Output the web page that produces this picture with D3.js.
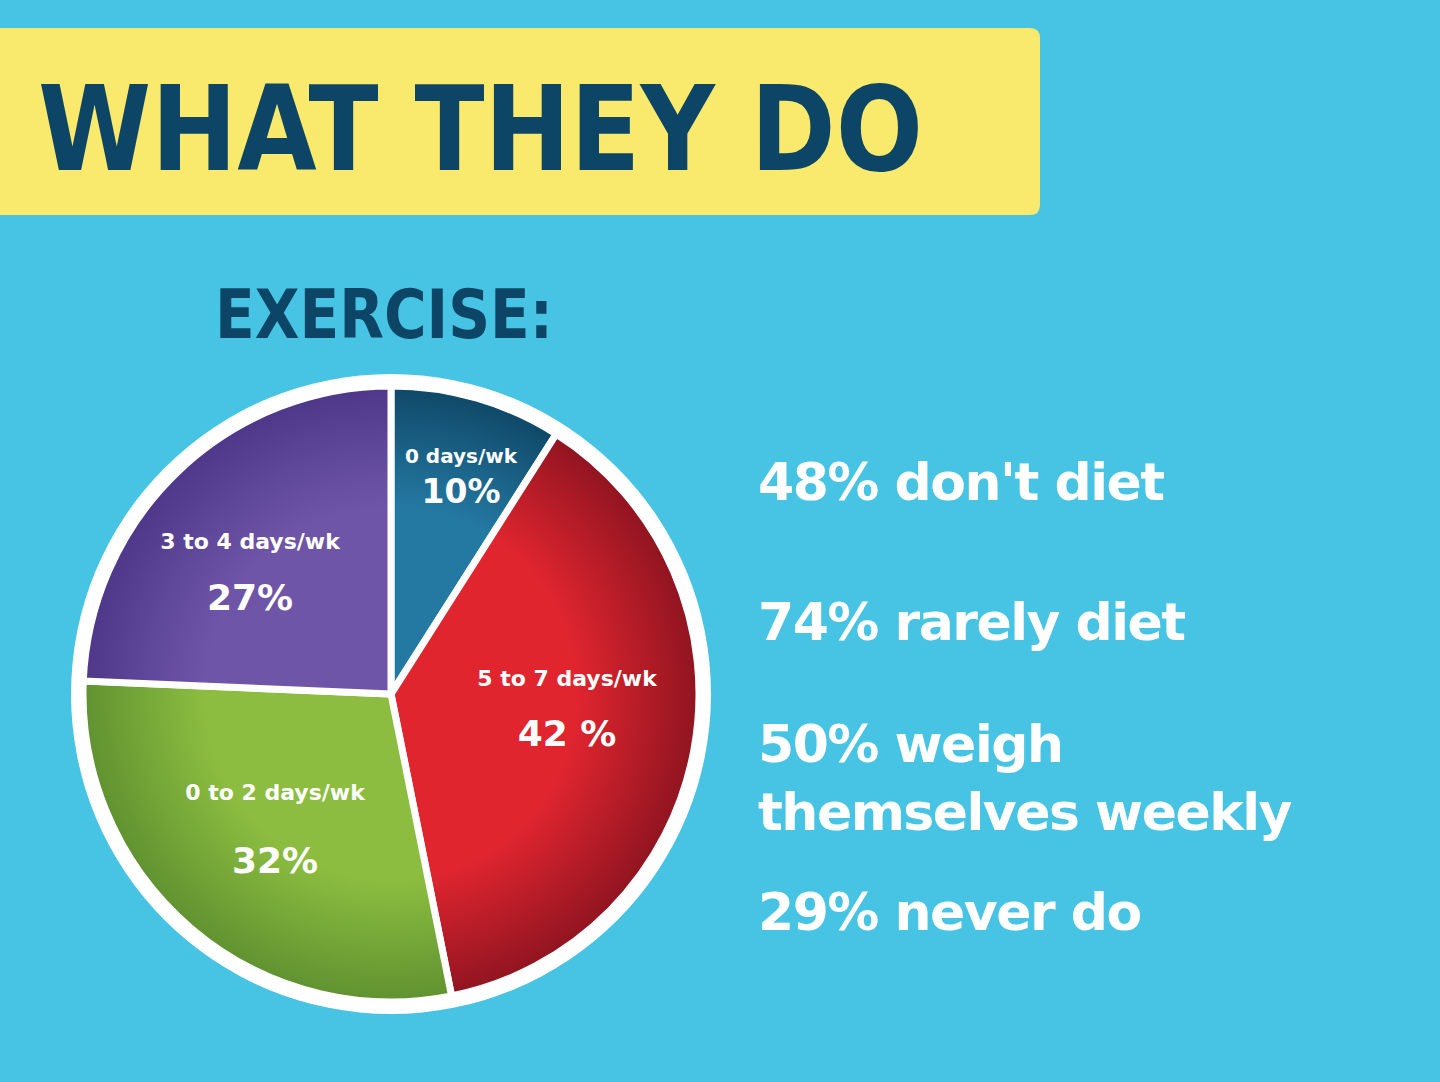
<!DOCTYPE html>
<html><head><meta charset="utf-8">
<script src="https://cdn.jsdelivr.net/npm/d3@7"></script>
<style>body{margin:0;background:#47c3e3;overflow:hidden}</style>
</head><body>
<script>
var labels = ["0 days/wk", "5 to 7 days/wk", "0 to 2 days/wk", "3 to 4 days/wk"];
var values = [10, 42, 32, 27];
var valueText = ["10%", "42 %", "32%", "27%"];
var facts = ["48% don't diet", "74% rarely diet", "50% weigh", "themselves weekly", "29% never do"];
var fills = [["#2479a3", "#0f4766"], ["#e0252f", "#8e1420"], ["#8cbd40", "#5f9130"], ["#6f55a8", "#4d3788"]];

var svg = d3.select("body").append("svg")
	.attr("width", 1440)
	.attr("height", 1082);

svg.append("rect").attr("width", 1440).attr("height", 1082).attr("rx", 14).attr("fill", "#47c3e3");

// yellow banner
svg.append("path")
	.attr("d", "M0,28 H1030 Q1040,28 1040,38 V205 Q1040,215 1030,215 H0 Z")
	.attr("fill", "#f9e96c");
svg.append("text").attr("x", 38).attr("y", 170)
	.attr("font-family", "DejaVu Sans").attr("font-weight", "bold")
	.attr("font-size", 118).attr("fill", "#0d4566")
	.attr("textLength", 885).attr("lengthAdjust", "spacingAndGlyphs")
	.text("WHAT THEY DO");

svg.append("text").attr("x", 215).attr("y", 338)
	.attr("font-family", "DejaVu Sans").attr("font-weight", "bold")
	.attr("font-size", 68).attr("fill", "#0d4566")
	.attr("textLength", 338).attr("lengthAdjust", "spacingAndGlyphs")
	.text("EXERCISE:");

var defs = svg.append("defs");
fills.forEach(function (f, i) {
	var g = defs.append("radialGradient").attr("id", "g" + i)
		.attr("gradientUnits", "userSpaceOnUse").attr("cx", 0).attr("cy", 0).attr("r", 310);
	g.append("stop").attr("offset", "0.6").attr("stop-color", f[0]);
	g.append("stop").attr("offset", "1").attr("stop-color", f[1]);
});

var cx = 391, cy = 694;
var pie = d3.pie().sort(null).value(function (d) { return d; });
var arcs = pie(values);
var arc = d3.arc().innerRadius(0).outerRadius(308);

var g = svg.append("g").attr("transform", "translate(" + cx + "," + cy + ")");
g.append("circle").attr("r", 320).attr("fill", "#ffffff");
g.selectAll("path.slice").data(arcs).enter().append("path")
	.attr("class", "slice")
	.attr("d", arc)
	.attr("fill", function (d, i) { return "url(#g" + i + ")"; })
	.attr("stroke", "#ffffff").attr("stroke-width", 7);

var labelPos = [[70, -231, -191], [176, -8, 52], [-116, 106, 179], [-141, -145, -84]];
arcs.forEach(function (d, i) {
	var p = labelPos[i];
	g.append("text").attr("x", p[0]).attr("y", p[1])
		.attr("text-anchor", "middle").attr("font-family", "DejaVu Sans")
		.attr("font-weight", "bold").attr("font-size", i === 0 ? 20 : 22).attr("fill", "#ffffff")
		.text(labels[i]);
	g.append("text").attr("x", p[0]).attr("y", p[2])
		.attr("text-anchor", "middle").attr("font-family", "DejaVu Sans")
		.attr("font-weight", "bold").attr("font-size", i === 0 ? 33 : 36).attr("fill", "#ffffff")
		.text(valueText[i]);
});

var factY = [500, 640, 762, 830, 930];
svg.selectAll("text.fact").data(facts).enter().append("text")
	.attr("class", "fact")
	.attr("x", 758).attr("y", function (d, i) { return factY[i]; })
	.attr("font-family", "DejaVu Sans").attr("font-weight", "bold")
	.attr("font-size", 52).attr("fill", "#ffffff")
	.attr("letter-spacing", -1.5)
	.text(function (d) { return d; });
</script>
</body></html>
